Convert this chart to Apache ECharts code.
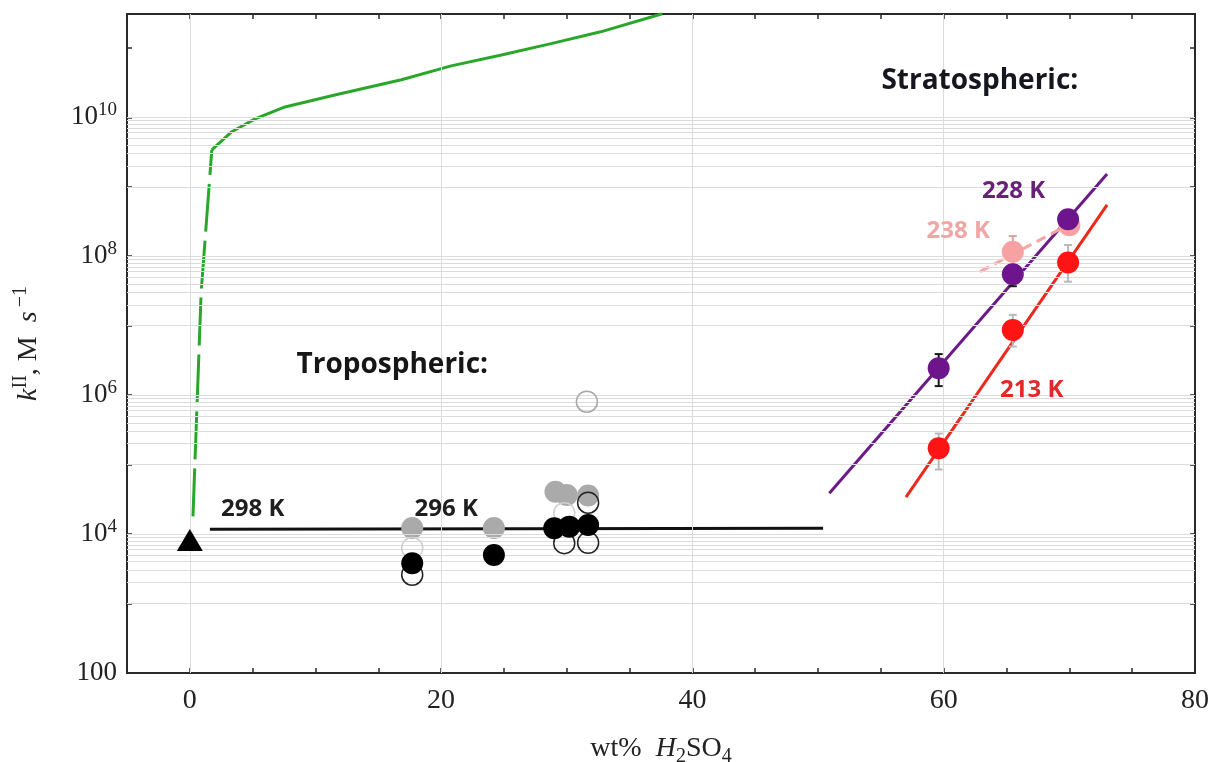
<!DOCTYPE html>
<html>
<head>
<meta charset="utf-8">
<script src="https://cdn.jsdelivr.net/npm/echarts@6/dist/echarts.min.js"></script>
<style>
  html, body { margin: 0; padding: 0; background: #fff; }
  #chart { width: 1212px; height: 762px; }
</style>
</head>
<body>
<div id="chart"></div>
<script>
// ---- data (x = wt% H2SO4, y = k^II in M^-1 s^-1) ----
const greenDashX = [0.25, 0.9, 1.75];
const greenDashY = [1.8e4, 3.0e7, 3.4e9];
const greenX = [1.75, 3.34, 5.19, 7.57, 11.54, 16.84, 20.8, 24.8, 28.75, 32.7, 37.6];
const greenY = [3.4e9, 6.2e9, 9.5e9, 1.41e10, 2.09e10, 3.47e10, 5.5e10, 7.9e10, 1.15e11, 1.7e11, 3.1e11];

const tropX = [1.6, 50.4];
const tropY = [1.17e4, 1.21e4];

const k228LineX = [50.9, 73.0];
const k228LineY = [3.87e4, 1.53e9];
const k213LineX = [57.0, 73.0];
const k213LineY = [3.4e4, 5.5e8];
const k238LineX = [62.9, 70.6];
const k238LineY = [6.0e7, 3.3e8];

// tropospheric measurements
const grayFilledX = [17.7, 24.2, 29.1, 30.0, 31.7];
const grayFilledY = [1.22e4, 1.22e4, 4.07e4, 3.65e4, 3.6e4];
const lightOpenX = [17.7, 29.8];
const lightOpenY = [6.3e3, 2.0e4];
const blackOpenX = [17.7, 29.8, 31.7, 31.7];
const blackOpenY = [2.6e3, 7.4e3, 7.5e3, 2.83e4];
const blackFilledX = [17.7, 24.2, 29.0, 30.2, 31.7];
const blackFilledY = [3.8e3, 5.0e3, 1.21e4, 1.28e4, 1.35e4];
const grayOpenX = [31.6];
const grayOpenY = [8.05e5];
const triangleX = [0];
const triangleY = [8.2e3];

// stratospheric measurements with error bars
const k228X = [59.6, 65.5, 69.9];
const k228Y = [2.44e6, 5.5e7, 3.4e8];
const k228Lo = [1.35e6, 3.7e7, 2.9e8];
const k228Hi = [3.9e6, 7.5e7, 4.0e8];
const k213X = [59.6, 65.5, 69.9];
const k213Y = [1.72e5, 8.7e6, 8.1e7];
const k213Lo = [8.5e4, 5.0e6, 4.3e7];
const k213Hi = [2.8e5, 1.43e7, 1.45e8];
const k238X = [65.5, 70.0];
const k238Y = [1.16e8, 2.8e8];
const k238Lo = [7.4e7, 2.2e8];
const k238Hi = [1.95e8, 3.6e8];

// annotations
const noteText = ["Tropospheric:", "Stratospheric:", "298 K", "296 K", "228 K", "238 K", "213 K"];
const noteX = [8.45, 55.0, 2.45, 17.85, 63.0, 58.6, 64.45];
const noteY = [2.75e6, 3.3e10, 2.3e4, 2.3e4, 8.7e8, 2.32e8, 1.18e6];

// grid lines
const gridDecades = [1e3, 1e5, 1e7, 1e9];
const gridSteps = [1, 2, 3, 4, 5, 6, 7, 8, 9, 10];
const gridX = [0, 20, 40, 60];

const pairs = (xs, ys) => xs.map((x, i) => [x, ys[i]]);
const bars = (xs, lo, hi) => xs.map((x, i) => [x, lo[i], hi[i]]);

const serif = "Liberation Serif";
const sans = "Open Sans";
const noteColors = ["#161616", "#16161f", "#1e1e1e", "#1e1e1e", "#6a1f7a", "#f2a5a5", "#e02a2a"];
const noteSizes = [28, 28, 24, 24, 24, 24, 24];

let gridLines = [];
gridDecades.forEach(d => gridSteps.forEach(k => gridLines.push({ yAxis: k * d })));
gridX.forEach(x => gridLines.push({ xAxis: x }));

function renderErrorBar(params, api) {
  const lo = api.coord([api.value(0), api.value(1)]);
  const hi = api.coord([api.value(0), api.value(2)]);
  const w = 4;
  const style = { stroke: api.visual("color"), lineWidth: 2 };
  return {
    type: "group",
    children: [
      { type: "line", shape: { x1: lo[0], y1: lo[1], x2: hi[0], y2: hi[1] }, style: style },
      { type: "line", shape: { x1: lo[0] - w, y1: lo[1], x2: lo[0] + w, y2: lo[1] }, style: style },
      { type: "line", shape: { x1: hi[0] - w, y1: hi[1], x2: hi[0] + w, y2: hi[1] }, style: style },
    ],
  };
}

function logLabel(v) {
  const e = Math.log10(v);
  const r = Math.round(e);
  if (Math.abs(e - r) > 1e-6 || r % 2 !== 0) return "";
  if (r === 2) return "{b|100}";
  return "{b|10}{sup|" + r + "}";
}

const axisLineStyle = { color: "#2a2a2a", width: 2 };
const tickStyle = { show: true, inside: true, length: 5, lineStyle: { color: "#2a2a2a", width: 1.5 } };
const serifRich = {
  b: { fontFamily: serif, fontSize: 27, color: "#222", lineHeight: 34, verticalAlign: "middle" },
  i: { fontFamily: serif, fontSize: 27, fontStyle: "italic", color: "#222", lineHeight: 34, verticalAlign: "middle" },
  sup: { fontFamily: serif, fontSize: 19, color: "#222", verticalAlign: "top", lineHeight: 34 },
  sub: { fontFamily: serif, fontSize: 19, color: "#222", verticalAlign: "bottom", lineHeight: 34 },
};
const titleRich = {
  b: { fontFamily: serif, fontSize: 28, color: "#222", lineHeight: 36, verticalAlign: "middle" },
  i: { fontFamily: serif, fontSize: 28, fontStyle: "italic", color: "#222", lineHeight: 36, verticalAlign: "middle" },
  sup: { fontFamily: serif, fontSize: 20, color: "#222", verticalAlign: "top", lineHeight: 36 },
  sub: { fontFamily: serif, fontSize: 20, color: "#222", verticalAlign: "bottom", lineHeight: 36 },
};

function scatter(name, data, symbol, size, itemStyle, z) {
  itemStyle.opacity = 1;
  return { name: name, type: "scatter", data: data, symbol: symbol, symbolSize: size, itemStyle: itemStyle, z: z, silent: true };
}
function line(name, data, color, type, z) {
  return {
    name: name, type: "line", data: data, showSymbol: false, symbol: "none", z: z, silent: true,
    lineStyle: { color: color, width: 3, type: type },
  };
}

const chart = echarts.init(document.getElementById("chart"));
chart.setOption({
  animation: false,
  backgroundColor: "#fff",
  grid: { left: 127, right: 17, top: 14, bottom: 89, containLabel: false, outerBoundsMode: "none" },
  xAxis: [
    {
      type: "value", min: -5, max: 80, interval: 5, position: "bottom",
      axisLine: { show: true, onZero: false, lineStyle: axisLineStyle },
      axisTick: tickStyle,
      splitLine: { show: false },
      axisLabel: {
        formatter: v => (v % 20 === 0 ? String(v) : ""),
        fontFamily: serif, fontSize: 28, color: "#222", margin: 14,
      },
      name: "{b|wt%\u2002}{i|H}{sub|2}{b|SO}{sub|4}",
      nameLocation: "middle", nameGap: 58,
      nameTextStyle: { rich: titleRich },
    },
    {
      type: "value", min: -5, max: 80, interval: 5, position: "top",
      axisLine: { show: true, onZero: false, lineStyle: axisLineStyle },
      axisTick: tickStyle,
      splitLine: { show: false },
      axisLabel: { show: false },
    },
  ],
  yAxis: [
    {
      type: "log", logBase: 10, min: 100, max: 3.07e11, position: "left",
      axisLine: { show: true, onZero: false, lineStyle: axisLineStyle },
      axisTick: tickStyle,
      splitLine: { show: false },
      axisLabel: { formatter: logLabel, margin: 10, rich: serifRich },
      name: "{i|k}{sup|II}{b|, M\u2002}{i|s}{sup|\u2009−1}",
      nameLocation: "middle", nameGap: 80, nameRotate: 90,
      nameTextStyle: { rich: titleRich },
    },
    {
      type: "log", logBase: 10, min: 100, max: 3.07e11, position: "right",
      axisLine: { show: true, onZero: false, lineStyle: axisLineStyle },
      axisTick: tickStyle,
      splitLine: { show: false },
      axisLabel: { show: false },
    },
  ],
  series: [
    {
      name: "grid", type: "line", data: [], z: 1, silent: true,
      markLine: {
        silent: true, symbol: ["none", "none"], label: { show: false },
        lineStyle: { color: "#dcdcdc", width: 1, type: "solid" },
        emphasis: { disabled: true },
        data: gridLines,
      },
    },
    line("green dashed", pairs(greenDashX, greenDashY), "#2aa62a", [48, 9], 3),
    line("green", pairs(greenX, greenY), "#2aa62a", "solid", 3),
    line("298 K", pairs(tropX, tropY), "#111", "solid", 3),
    line("228 K fit", pairs(k228LineX, k228LineY), "#6b1a86", "solid", 3),
    line("213 K fit", pairs(k213LineX, k213LineY), "#ea2a1c", "solid", 3),
    line("238 K fit", pairs(k238LineX, k238LineY), "#f4a7a7", [10, 6], 3),

    scatter("gray filled", pairs(grayFilledX, grayFilledY), "circle", 22, { color: "#aaaaaa" }, 4),
    scatter("light open", pairs(lightOpenX, lightOpenY), "circle", 21, { color: "rgba(255,255,255,0)", borderColor: "#cfcfcf", borderWidth: 1.5 }, 5),
    scatter("gray open", pairs(grayOpenX, grayOpenY), "circle", 21, { color: "rgba(255,255,255,0)", borderColor: "#a8a8a8", borderWidth: 1.5 }, 5),
    scatter("black open", pairs(blackOpenX, blackOpenY), "circle", 21, { color: "rgba(255,255,255,0)", borderColor: "#222", borderWidth: 1.5 }, 5),
    scatter("black filled", pairs(blackFilledX, blackFilledY), "circle", 22, { color: "#000" }, 6),
    scatter("triangle", pairs(triangleX, triangleY), "triangle", [26, 22], { color: "#000" }, 6),

    { name: "238 K err", type: "custom", renderItem: renderErrorBar, data: bars(k238X, k238Lo, k238Hi), encode: { x: 0, y: [1, 2] }, itemStyle: { color: "#d9a0a0" }, z: 6, silent: true },
    scatter("238 K", pairs(k238X, k238Y), "circle", 22, { color: "#f7a2a2" }, 7),
    { name: "228 K err", type: "custom", renderItem: renderErrorBar, data: bars(k228X, k228Lo, k228Hi), encode: { x: 0, y: [1, 2] }, itemStyle: { color: "#1a1a1a" }, z: 8, silent: true },
    scatter("228 K", pairs(k228X, k228Y), "circle", 22, { color: "#6e148c" }, 9),
    { name: "213 K err", type: "custom", renderItem: renderErrorBar, data: bars(k213X, k213Lo, k213Hi), encode: { x: 0, y: [1, 2] }, itemStyle: { color: "#b9b9b9" }, z: 8, silent: true },
    scatter("213 K", pairs(k213X, k213Y), "circle", 22, { color: "#ff1414" }, 9),

    {
      name: "notes", type: "scatter", symbolSize: 1, z: 10, silent: true,
      itemStyle: { color: "rgba(0,0,0,0)", opacity: 1 },
      data: noteText.map((t, i) => ({
        value: [noteX[i], noteY[i]],
        label: {
          show: true, position: "right", distance: 0, formatter: t,
          fontFamily: sans, fontWeight: "bold", fontSize: noteSizes[i], color: noteColors[i],
        },
      })),
    },
  ],
});
</script>
</body>
</html>
